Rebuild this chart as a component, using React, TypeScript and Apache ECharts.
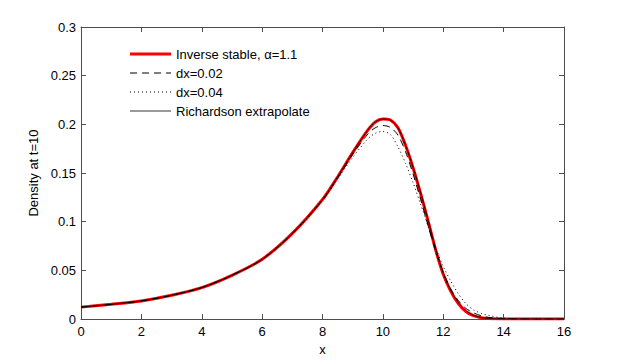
import React, { useEffect, useRef } from "react";
import * as echarts from "echarts";

const xs = [0, 1, 2, 3, 4, 5, 6, 7, 8, 8.5, 9, 9.5, 9.75, 10, 10.25, 10.5, 10.75, 11, 11.25, 11.5, 11.75, 12, 12.25, 12.5, 12.75, 13, 13.25, 13.5, 14, 15, 16];

const inverseStable = [0.0123, 0.0152, 0.0187, 0.0245, 0.0324, 0.045, 0.0614, 0.088, 0.1228, 0.146, 0.171, 0.194, 0.2025, 0.2056, 0.2045, 0.1965, 0.1785, 0.1555, 0.129, 0.1005, 0.071, 0.046, 0.0285, 0.016, 0.0078, 0.0035, 0.0014, 0.0005, 0.0001, 0, 0];

const dx002 = [0.0123, 0.0152, 0.0187, 0.0245, 0.0324, 0.045, 0.0614, 0.088, 0.1225, 0.145, 0.169, 0.19, 0.1965, 0.1988, 0.1968, 0.189, 0.172, 0.149, 0.123, 0.096, 0.07, 0.048, 0.031, 0.019, 0.011, 0.0065, 0.0035, 0.0018, 0.0004, 0, 0];

const dx004 = [0.0123, 0.0152, 0.0187, 0.0245, 0.0324, 0.045, 0.0612, 0.0875, 0.122, 0.144, 0.166, 0.185, 0.1908, 0.1928, 0.1895, 0.177, 0.16, 0.14, 0.118, 0.095, 0.073, 0.054, 0.039, 0.026, 0.016, 0.0095, 0.006, 0.0038, 0.001, 0.0001, 0];

const richardson = [0.0123, 0.0152, 0.0187, 0.0245, 0.0324, 0.045, 0.0614, 0.088, 0.1228, 0.146, 0.171, 0.194, 0.2025, 0.2055, 0.2043, 0.1965, 0.1785, 0.156, 0.13, 0.1015, 0.072, 0.047, 0.0295, 0.017, 0.0085, 0.004, 0.0016, 0.0006, 0.0001, 0, 0];

const seriesNames = ["Inverse stable, \u03b1=1.1", "dx=0.02", "dx=0.04", "Richardson extrapolate"];

const xTicks = { min: 0, max: 16, interval: 2 };
const yTicks = { min: 0, max: 0.3, interval: 0.05 };

const pairs = (ys: number[]) => xs.map((x, i) => [x, ys[i]]);

const FONT = "'Liberation Sans', Arial, Helvetica, sans-serif";
const AXIS_COLOR = "#4d4d4d";

const seriesStyles = [
  { color: "#ff0000", width: 3, type: "solid" as any },
  { color: "#000", width: 1, type: [7, 5] as any },
  { color: "#000", width: 1, type: [1, 3] as any },
  { color: "#000", width: 0.8, type: "solid" as any },
];

export default function App() {
  const ref = useRef<HTMLDivElement>(null);
  useEffect(() => {
    if (!ref.current) return;
    const chart = echarts.init(ref.current, undefined, { renderer: "svg" });
    const axisCommon = {
      axisLine: { show: true, onZero: false, lineStyle: { color: AXIS_COLOR, width: 1 } },
      axisTick: { show: true, inside: true, length: 5, lineStyle: { color: AXIS_COLOR } },
      splitLine: { show: false },
    };
    const legendEls: any[] = [];
    seriesNames.forEach((name, i) => {
      const y = 54 + i * 19;
      legendEls.push({
        type: "line",
        shape: { x1: 130, y1: y, x2: 171, y2: y },
        style: { stroke: seriesStyles[i].color, lineWidth: seriesStyles[i].width, lineDash: Array.isArray(seriesStyles[i].type) ? seriesStyles[i].type : null },
        silent: true,
      });
      legendEls.push({
        type: "text",
        x: 176,
        y: y,
        style: { text: name, fill: "#000", font: `13px ${FONT}`, verticalAlign: "middle", align: "left" },
        silent: true,
      });
    });
    const data = [inverseStable, dx002, dx004, richardson];
    chart.setOption({
      animation: false,
      backgroundColor: "#fff",
      textStyle: { fontFamily: FONT },
      grid: { left: 81, right: 59, top: 27, bottom: 41, containLabel: false },
      graphic: legendEls,
      xAxis: [
        {
          type: "value",
          position: "bottom",
          ...xTicks,
          ...axisCommon,
          name: "x",
          nameLocation: "middle",
          nameGap: 20,
          nameTextStyle: { fontFamily: FONT, fontSize: 13, color: "#000" },
          axisLabel: { fontFamily: FONT, fontSize: 13, color: "#000", margin: 6 },
        },
        {
          type: "value",
          position: "top",
          ...xTicks,
          ...axisCommon,
          axisLabel: { show: false },
        },
      ],
      yAxis: [
        {
          type: "value",
          position: "left",
          ...yTicks,
          ...axisCommon,
          name: "Density at t=10",
          nameLocation: "middle",
          nameRotate: 90,
          nameGap: 33,
          nameTextStyle: { fontFamily: FONT, fontSize: 13, color: "#000" },
          axisLabel: { fontFamily: FONT, fontSize: 13, color: "#000", margin: 5 },
        },
        {
          type: "value",
          position: "right",
          ...yTicks,
          ...axisCommon,
          axisLabel: { show: false },
        },
      ],
      series: seriesNames.map((name, i) => ({
        name,
        type: "line",
        data: pairs(data[i]),
        smooth: 0.3,
        showSymbol: false,
        symbol: "none",
        lineStyle: { color: seriesStyles[i].color, width: seriesStyles[i].width, type: seriesStyles[i].type },
        itemStyle: { color: seriesStyles[i].color },
        z: i + 1,
      })),
    });
    return () => chart.dispose();
  }, []);
  return <div ref={ref} style={{ width: 623, height: 361, position: "absolute", left: 0, top: 0 }} />;
}
